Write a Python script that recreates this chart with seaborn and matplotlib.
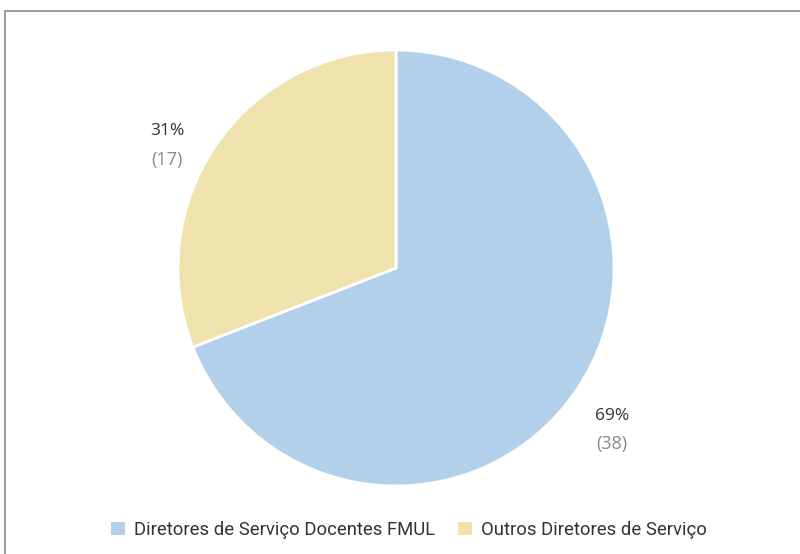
import numpy as np
import matplotlib
matplotlib.use('Agg')
import matplotlib.pyplot as plt
import seaborn as sns
from matplotlib.patches import Rectangle

sns.set_style('white')
plt.rcParams['font.family'] = ['Roboto', 'DejaVu Sans']

categories = ['Diretores de Serviço Docentes FMUL', 'Outros Diretores de Serviço']
counts = [38, 17]
colors = ['#b3d0eb', '#f0e2ad']

fig = plt.figure(figsize=(8, 5.54), dpi=100)
# frame around the chart (runs off the right and bottom edges)
fig.patches.append(Rectangle((5 / 800, -0.1), 1.2, 1 - 11 / 554 + 0.1,
                             transform=fig.transFigure, fill=False,
                             edgecolor='#8c8c8c', linewidth=1.2))

ax = fig.add_axes([178 / 800, 68 / 554, 436 / 800, 436 / 554])
wedges, _ = ax.pie(counts, colors=colors, startangle=90, counterclock=False,
                   wedgeprops=dict(edgecolor='white', linewidth=2))
ax.set_xlim(-1, 1)
ax.set_ylim(-1, 1)
ax.set_aspect('equal')

total = sum(counts)
# small nudges so the labels sit where the original puts them
nudges = [(0.0, 0.0), (-0.06, -0.05)]
for w, c, (nx, ny) in zip(wedges, counts, nudges):
    ang = np.deg2rad((w.theta1 + w.theta2) / 2)
    x, y = 1.2 * np.cos(ang) + nx, 1.2 * np.sin(ang) + ny
    ax.text(x, y, f'{c / total:.0%}', ha='center', va='center',
            fontsize=12.5, color='#333333', family=['Open Sans', 'DejaVu Sans'], clip_on=False)
    ax.text(x, y - 0.13, f'({c})', ha='center', va='center',
            fontsize=13, color='#8a8a8a', family=['Open Sans', 'DejaVu Sans'], clip_on=False)

handles = [Rectangle((0, 0), 1, 1, facecolor=col, edgecolor='none') for col in colors]
fig.legend(handles, categories, loc='center', bbox_to_anchor=(409 / 800, 1 - 530 / 554),
           ncol=2, frameon=False, fontsize=13.3, handlelength=0.75, handleheight=0.75,
           handletextpad=0.5, columnspacing=1.2, labelcolor='#333333')

fig.savefig('out.png', dpi=100)
